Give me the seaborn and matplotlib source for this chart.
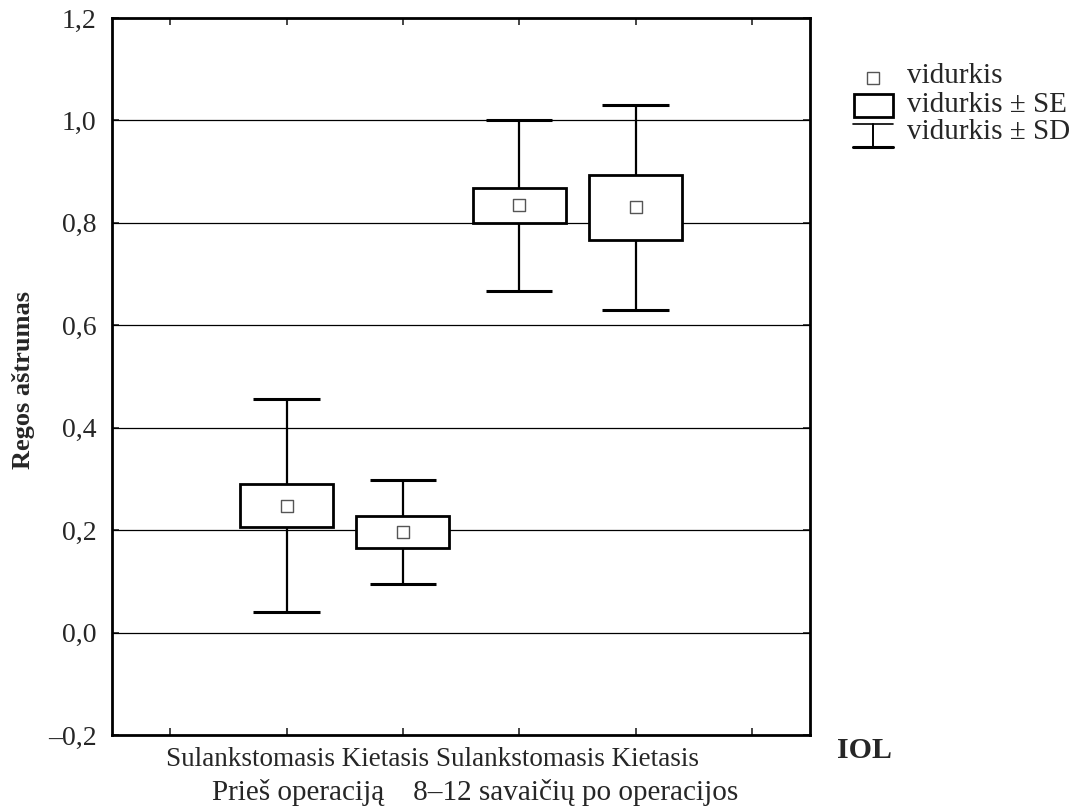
import numpy as np
import pandas as pd
import matplotlib
matplotlib.use("Agg")
import matplotlib.pyplot as plt
from matplotlib.patches import Rectangle
from matplotlib.lines import Line2D
from matplotlib.ticker import FuncFormatter
import seaborn as sns

# ---- data ----
lens_type = ["Sulankstomasis", "Kietasis", "Sulankstomasis", "Kietasis"]
period = ["Prieš operaciją", "Prieš operaciją", "8–12 savaičių po operacijos", "8–12 savaičių po operacijos"]
mean_vals = [0.248, 0.196, 0.834, 0.830]
se_vals = [0.042, 0.031, 0.035, 0.063]
sd_vals = [0.208, 0.101, 0.167, 0.200]
y_ticks = [-0.2, 0.0, 0.2, 0.4, 0.6, 0.8, 1.0, 1.2]
grid_levels = [0.0, 0.2, 0.4, 0.6, 0.8, 1.0]

df = pd.DataFrame({
    "pos": np.arange(1, len(mean_vals) + 1),
    "lens": lens_type,
    "period": period,
    "mean": mean_vals,
    "se": se_vals,
    "sd": sd_vals,
})

sns.set_theme(style="white")
plt.rcParams["font.family"] = ["Liberation Serif", "DejaVu Serif"]

W, H = 1079, 811
fig = plt.figure(figsize=(W / 100, H / 100), dpi=100)
ax = fig.add_axes([112 / W, 1 - 735 / H, (810 - 112) / W, (735 - 18) / H])

# grid lines
for g in grid_levels:
    ax.axhline(g, color="black", lw=0.9, zorder=1)

box_w = 0.80
cap_w = 0.57
# SD whiskers
ax.vlines(df["pos"], df["mean"] - df["sd"], df["mean"] + df["sd"], color="black", lw=1.6, zorder=2)
ax.hlines(df["mean"] + df["sd"], df["pos"] - cap_w / 2, df["pos"] + cap_w / 2, color="black", lw=2.2, zorder=2)
ax.hlines(df["mean"] - df["sd"], df["pos"] - cap_w / 2, df["pos"] + cap_w / 2, color="black", lw=2.2, zorder=2)
# SE boxes
ax.bar(df["pos"], 2 * df["se"], bottom=df["mean"] - df["se"], width=box_w,
       facecolor="white", edgecolor="black", linewidth=2.0, zorder=3)
# means
sns.scatterplot(data=df, x="pos", y="mean", marker="s", s=70, color="white",
                edgecolor="#555555", linewidth=1.0, zorder=4, ax=ax, legend=False)

ax.set_xlim(-0.5, 5.5)
ax.set_ylim(-0.2, 1.2)
ax.set_yticks(y_ticks)
ax.yaxis.set_major_formatter(FuncFormatter(lambda v, p: (f"{v:.1f}").replace(".", ",").replace("-", "–")))
ax.set_xticks(np.arange(0, 6))
ax.set_xticklabels([])
ax.tick_params(axis="y", direction="in", length=5, width=1.2, labelsize=20, pad=11, left=True, right=True)
ax.tick_params(axis="x", direction="in", length=5, width=1.2, top=True, bottom=True)
ax.set_xlabel("")
ax.set_ylabel("")
for s in ax.spines.values():
    s.set_visible(True)
    s.set_color("black")
    s.set_linewidth(2.0)

# axis labels
fig.text(24 / W, 1 - 380 / H, "Regos aštrumas", rotation=90, ha="center", va="center",
         fontsize=19, fontweight="bold")
fig.text(864 / W, 1 - 750 / H, "IOL", ha="center", va="center", fontsize=21.5, fontweight="bold")
fig.text(432 / W, 1 - 760 / H, " ".join(df["lens"]), ha="center", va="center", fontsize=19.5)
periods = list(dict.fromkeys(df["period"]))
fig.text(475 / W, 1 - 792 / H, "    ".join(periods), ha="center", va="center", fontsize=21)

# legend (manual)
def fx(x):
    return x / W

def fy(y):
    return 1 - y / H

fig.add_artist(Line2D([fx(873)], [fy(78)], marker="s", markersize=8.5, markerfacecolor="white",
                      markeredgecolor="#555555", markeredgewidth=1.0, transform=fig.transFigure))
fig.add_artist(Rectangle((fx(854), fy(117)), fx(893) - fx(854), fy(94) - fy(117), facecolor="white",
                         edgecolor="black", linewidth=2.0, transform=fig.transFigure))
fig.add_artist(Line2D([fx(853), fx(893)], [fy(124), fy(124)], color="black", lw=1.2, transform=fig.transFigure))
fig.add_artist(Line2D([fx(873), fx(873)], [fy(124), fy(147)], color="black", lw=1.4, transform=fig.transFigure))
fig.add_artist(Line2D([fx(853), fx(893)], [fy(147), fy(147)], color="black", lw=2.2, transform=fig.transFigure))
for ty, txt in [(76, "vidurkis"), (105, "vidurkis ± SE"), (132, "vidurkis ± SD")]:
    fig.text(fx(907), fy(ty), txt, ha="left", va="center", fontsize=21)

fig.savefig("out.png", dpi=100, facecolor="white")
